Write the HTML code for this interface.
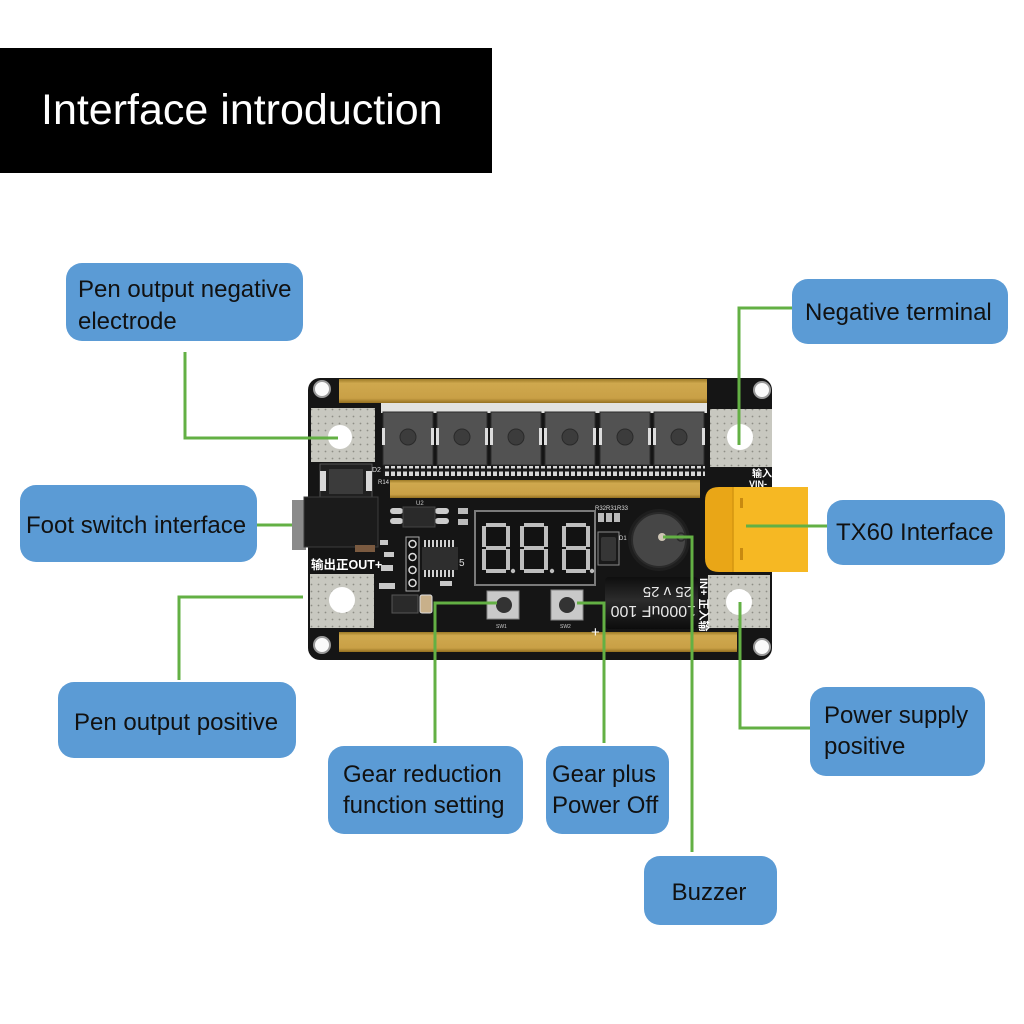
<!DOCTYPE html>
<html><head><meta charset="utf-8">
<style>
html,body{margin:0;padding:0;background:#fff;}
svg{display:block;}
text{font-family:"Liberation Sans","Noto Sans CJK SC",Arial,sans-serif;}
</style></head><body>
<svg width="1024" height="1024" viewBox="0 0 1024 1024" xmlns="http://www.w3.org/2000/svg">
<defs>
<pattern id="dots" width="7" height="7" patternUnits="userSpaceOnUse"><rect width="7" height="7" fill="#c8c8c0"/><circle cx="3.5" cy="3.5" r="0.9" fill="#8e8e86"/></pattern>
<linearGradient id="gold" x1="0" y1="0" x2="0" y2="1"><stop offset="0" stop-color="#9c7a26"/><stop offset="0.18" stop-color="#cfa84e"/><stop offset="0.8" stop-color="#c9a046"/><stop offset="1" stop-color="#947020"/></linearGradient>
<linearGradient id="capg" x1="0" y1="0" x2="0" y2="1"><stop offset="0" stop-color="#0e0e0e"/><stop offset="0.45" stop-color="#2c2c2c"/><stop offset="1" stop-color="#0c0c0c"/></linearGradient>
<pattern id="pads" width="6" height="10" patternUnits="userSpaceOnUse"><rect width="6" height="10" fill="#1a1a1a"/><rect x="1" y="1.5" width="4" height="7" fill="#d6d6d6"/></pattern>
</defs>

<!-- Title -->
<rect x="0" y="48" width="492" height="125" fill="#000"/>
<text x="41" y="124" font-size="43" fill="#fff">Interface introduction</text>

<!-- PCB board -->
<rect x="308" y="378" width="464" height="282" rx="12" fill="#151515"/>

<!-- gold bars -->
<rect x="339" y="379" width="368" height="24" fill="url(#gold)"/>
<rect x="390" y="480" width="310" height="18" fill="url(#gold)"/>
<rect x="339" y="632" width="398" height="20" fill="url(#gold)"/>

<!-- MOSFET tab strip -->
<rect x="381" y="403" width="326" height="10" fill="#e2e2e0"/>
<!-- MOSFETs -->
<g stroke="#2c2c2c" stroke-width="1">
<rect x="383" y="412" width="50" height="53" fill="#525252"/>
<rect x="437" y="412" width="50" height="53" fill="#525252"/>
<rect x="491" y="412" width="50" height="53" fill="#525252"/>
<rect x="545" y="412" width="50" height="53" fill="#525252"/>
<rect x="600" y="412" width="50" height="53" fill="#525252"/>
<rect x="654" y="412" width="50" height="53" fill="#525252"/>
</g>
<g fill="#3c3c3c" stroke="#2a2a2a">
<circle cx="408" cy="437" r="8"/><circle cx="462" cy="437" r="8"/><circle cx="516" cy="437" r="8"/>
<circle cx="570" cy="437" r="8"/><circle cx="625" cy="437" r="8"/><circle cx="679" cy="437" r="8"/>
</g>
<g fill="#dcdcdc">
<rect x="382" y="428" width="3" height="17"/><rect x="431" y="428" width="3" height="17"/>
<rect x="436" y="428" width="3" height="17"/><rect x="485" y="428" width="3" height="17"/>
<rect x="490" y="428" width="3" height="17"/><rect x="539" y="428" width="3" height="17"/>
<rect x="544" y="428" width="3" height="17"/><rect x="593" y="428" width="3" height="17"/>
<rect x="599" y="428" width="3" height="17"/><rect x="648" y="428" width="3" height="17"/>
<rect x="653" y="428" width="3" height="17"/><rect x="702" y="428" width="3" height="17"/>
</g>
<rect x="383" y="466" width="322" height="10" fill="url(#pads)"/>

<!-- silver pads -->
<rect x="311" y="408" width="64" height="54" fill="url(#dots)"/>
<rect x="710" y="409" width="62" height="58" fill="url(#dots)"/>
<rect x="310" y="574" width="64" height="54" fill="url(#dots)"/>
<rect x="708" y="575" width="62" height="53" fill="url(#dots)"/>
<g fill="#fff">
<circle cx="340" cy="437" r="12"/><circle cx="740" cy="437" r="13"/>
<circle cx="342" cy="600" r="13"/><circle cx="739" cy="602" r="13"/>
</g>
<!-- mounting holes -->
<g fill="#fafafa" stroke="#9a9a9a" stroke-width="2">
<circle cx="322" cy="389" r="8"/><circle cx="762" cy="390" r="8"/>
<circle cx="322" cy="645" r="8"/><circle cx="762" cy="647" r="8"/>
</g>

<!-- D2 -->
<rect x="320" y="464" width="52" height="35" fill="#202020" stroke="#555"/>
<rect x="329" y="469" width="34" height="25" fill="#3b3b3b"/>
<rect x="320" y="471" width="6" height="20" fill="#d8d8d8"/>
<rect x="366" y="471" width="6" height="20" fill="#d8d8d8"/>
<text x="372" y="472" font-size="7" fill="#ddd">D2</text>
<text x="378" y="484" font-size="6" fill="#ddd">R14</text>

<!-- DC jack -->
<rect x="292" y="500" width="14" height="50" fill="#8a8a8a"/>
<rect x="304" y="497" width="74" height="50" fill="#1b1b1b" stroke="#3c3c3c"/>
<rect x="355" y="545" width="20" height="7" fill="#7a5a40"/>
<text x="311" y="569" font-size="12.5" font-weight="bold" fill="#fff">输出正OUT+</text>

<!-- U2 -->
<rect x="390" y="508" width="13" height="6" rx="3" fill="#ccc"/>
<rect x="390" y="518" width="13" height="6" rx="3" fill="#ccc"/>
<rect x="435" y="508" width="14" height="6" rx="3" fill="#ccc"/>
<rect x="435" y="518" width="14" height="6" rx="3" fill="#ccc"/>
<rect x="403" y="507" width="32" height="20" fill="#2a2a2a" stroke="#444"/>
<text x="416" y="505" font-size="6" fill="#ccc">U2</text>
<rect x="458" y="508" width="10" height="6" fill="#bbb"/>
<rect x="458" y="519" width="10" height="6" fill="#bbb"/>
<!-- header J1 -->
<rect x="406" y="537" width="13" height="54" fill="#111" stroke="#aaa"/>
<g fill="#111" stroke="#ddd" stroke-width="1.5">
<circle cx="412.5" cy="544" r="3.5"/><circle cx="412.5" cy="557" r="3.5"/><circle cx="412.5" cy="570" r="3.5"/><circle cx="412.5" cy="583" r="3.5"/>
</g>
<!-- IC -->
<g fill="#cfcfcf">
<rect x="424" y="540" width="2" height="7"/><rect x="428" y="540" width="2" height="7"/><rect x="432" y="540" width="2" height="7"/><rect x="436" y="540" width="2" height="7"/><rect x="440" y="540" width="2" height="7"/><rect x="444" y="540" width="2" height="7"/><rect x="448" y="540" width="2" height="7"/><rect x="452" y="540" width="2" height="7"/>
<rect x="424" y="570" width="2" height="7"/><rect x="428" y="570" width="2" height="7"/><rect x="432" y="570" width="2" height="7"/><rect x="436" y="570" width="2" height="7"/><rect x="440" y="570" width="2" height="7"/><rect x="444" y="570" width="2" height="7"/><rect x="448" y="570" width="2" height="7"/><rect x="452" y="570" width="2" height="7"/>
</g>
<rect x="422" y="547" width="36" height="23" fill="#2e2e2e"/>
<text x="459" y="566" font-size="10" fill="#ddd">5</text>
<!-- small parts -->
<g fill="#c8c8c8">
<rect x="380" y="540" width="8" height="5"/><rect x="384" y="552" width="10" height="5"/><rect x="381" y="565" width="12" height="6"/>
<rect x="379" y="583" width="16" height="6"/><rect x="440" y="581" width="12" height="5"/>
</g>
<rect x="392" y="595" width="26" height="18" fill="#2a2a2a" stroke="#555"/>
<rect x="420" y="595" width="12" height="18" rx="2" fill="#c8b08a" stroke="#ddd"/>

<!-- 7-seg display -->
<rect x="475" y="511" width="120" height="74" fill="#121212" stroke="#7a7a7a" stroke-width="2"/>
<g fill="#bdbdbd">
<rect x="486" y="523" width="20" height="4"/><rect x="486" y="546" width="20" height="4"/><rect x="486" y="569" width="20" height="4"/>
<rect x="482" y="526" width="4" height="21"/><rect x="506" y="526" width="4" height="21"/>
<rect x="482" y="549" width="4" height="21"/><rect x="506" y="549" width="4" height="21"/>
<circle cx="513" cy="571" r="2.2"/>
<rect x="524" y="523" width="20" height="4"/><rect x="524" y="546" width="20" height="4"/><rect x="524" y="569" width="20" height="4"/>
<rect x="520" y="526" width="4" height="21"/><rect x="544" y="526" width="4" height="21"/>
<rect x="520" y="549" width="4" height="21"/><rect x="544" y="549" width="4" height="21"/>
<circle cx="552" cy="571" r="2.2"/>
<rect x="566" y="523" width="20" height="4"/><rect x="566" y="546" width="20" height="4"/><rect x="566" y="569" width="20" height="4"/>
<rect x="562" y="526" width="4" height="21"/><rect x="586" y="526" width="4" height="21"/>
<rect x="562" y="549" width="4" height="21"/><rect x="586" y="549" width="4" height="21"/>
<circle cx="592" cy="571" r="2.2"/>
</g>

<!-- R32 R31 R33, D1 -->
<text x="595" y="510" font-size="6" fill="#ddd">R32R31R33</text>
<rect x="598" y="513" width="6" height="9" fill="#bbb"/><rect x="606" y="513" width="6" height="9" fill="#bbb"/><rect x="614" y="513" width="6" height="9" fill="#bbb"/>
<rect x="598" y="532" width="21" height="33" fill="#1a1a1a" stroke="#8a8a8a"/>
<rect x="601" y="537" width="15" height="24" rx="2" fill="#363636"/>
<text x="619" y="540" font-size="6" fill="#ddd">D1</text>

<!-- buzzer -->
<circle cx="659" cy="540" r="31" fill="#1e1e1e"/>
<circle cx="659" cy="540" r="27" fill="#464646" stroke="#2a2a2a" stroke-width="2"/>
<circle cx="662" cy="537" r="4" fill="#cfc6b5"/>
<circle cx="681" cy="537" r="4" fill="none" stroke="#2a2a2a" stroke-width="1.5"/>

<!-- capacitor -->
<rect x="605" y="577" width="93" height="52" rx="4" fill="url(#capg)"/>
<g transform="rotate(180 651 603)" fill="#e8e8e8">
<text x="606" y="600" font-size="16" font-family="Liberation Mono, monospace">1000uF 100</text>
<text x="610" y="619" font-size="15" font-family="Liberation Mono, monospace">25 v  25</text>
</g>
<text transform="rotate(90 700 578)" x="700" y="578" font-size="11" font-weight="bold" fill="#fff">IN+ 正入输</text>

<!-- buttons -->
<rect x="487" y="591" width="32" height="28" fill="#c9c9c9" stroke="#888"/>
<circle cx="504" cy="605" r="8" fill="#333"/>
<rect x="551" y="590" width="32" height="30" fill="#c9c9c9" stroke="#888"/>
<circle cx="567" cy="605" r="8" fill="#333"/>
<text x="496" y="628" font-size="5" fill="#ccc">SW1</text>
<text x="560" y="628" font-size="5" fill="#ccc">SW2</text>
<text x="591" y="637" font-size="15" fill="#fff">+</text>

<!-- VIN- label -->
<text x="752" y="477" font-size="10" font-weight="bold" fill="#fff">输入</text>
<text x="749" y="487" font-size="9" font-weight="bold" fill="#fff">VIN-</text>

<!-- XT60 -->
<path d="M733 487 H719 Q705 487 705 501 V558 Q705 572 719 572 H733 Z" fill="#e9a617"/>
<rect x="733" y="487" width="75" height="85" fill="#f6b823"/>
<line x1="733" y1="487" x2="733" y2="572" stroke="#d49510" stroke-width="1.5"/>
<rect x="740" y="498" width="3" height="10" fill="#c88a10"/>
<rect x="740" y="548" width="3" height="12" fill="#c88a10"/>

<!-- connector lines -->
<g fill="none" stroke="#63b044" stroke-width="3">
<polyline points="185,352 185,438 338,438"/>
<polyline points="257,525 292,525"/>
<polyline points="792,308 739,308 739,445"/>
<polyline points="746,526 827,526"/>
<polyline points="179,680 179,597 303,597"/>
<polyline points="435,743 435,603 497,603"/>
<polyline points="604,743 604,603 577,603"/>
<polyline points="692,852 692,537 663,537"/>
<polyline points="810,728 740,728 740,602"/>
</g>

<!-- label boxes -->
<g fill="#5b9bd5">
<rect x="66" y="263" width="237" height="78" rx="16"/>
<rect x="20" y="485" width="237" height="77" rx="16"/>
<rect x="792" y="279" width="216" height="65" rx="16"/>
<rect x="827" y="500" width="178" height="65" rx="16"/>
<rect x="58" y="682" width="238" height="76" rx="16"/>
<rect x="328" y="746" width="195" height="88" rx="16"/>
<rect x="546" y="746" width="123" height="88" rx="16"/>
<rect x="644" y="856" width="133" height="69" rx="16"/>
<rect x="810" y="687" width="175" height="89" rx="16"/>
</g>
<g font-size="24" fill="#111">
<text x="78" y="297">Pen output negative</text>
<text x="78" y="329">electrode</text>
<text x="26" y="533">Foot switch interface</text>
<text x="805" y="320">Negative terminal</text>
<text x="836" y="540">TX60 Interface</text>
<text x="74" y="730">Pen output positive</text>
<text x="343" y="782">Gear reduction</text>
<text x="343" y="813">function setting</text>
<text x="552" y="782">Gear plus</text>
<text x="552" y="813">Power Off</text>
<text x="709" y="900" text-anchor="middle">Buzzer</text>
<text x="824" y="723">Power supply</text>
<text x="824" y="754">positive</text>
</g>
</svg>
</body></html>
